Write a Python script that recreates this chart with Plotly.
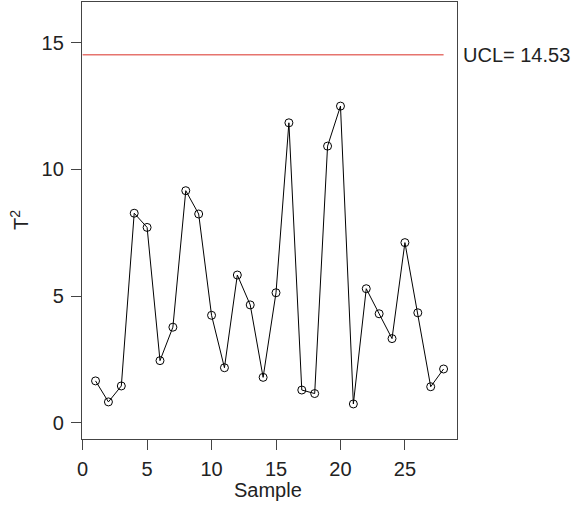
import plotly.graph_objects as go

# Hotelling T^2 statistics for each sample
samples = list(range(1, 29))
t2_values = [1.65, 0.82, 1.45, 8.27, 7.71, 2.45, 3.77, 9.16, 8.24, 4.24,
             2.17, 5.83, 4.65, 1.79, 5.13, 11.84, 1.29, 1.15, 10.92, 12.50,
             0.74, 5.29, 4.30, 3.32, 7.11, 4.34, 1.42, 2.12]
ucl = 14.53
x_ticks = [0, 5, 10, 15, 20, 25]
y_ticks = [0, 5, 10, 15]

FONT = "Liberation Sans, Arial, Helvetica, sans-serif"
FS = 20
TXT = "#222222"
W, H = 582, 505
L, R, T, B = 82, 125, 2, 66

fig = go.Figure()

# Upper control limit
fig.add_trace(go.Scatter(
    x=[0, samples[-1]], y=[ucl, ucl], mode="lines",
    line=dict(color="#E6746E", width=1.4), hoverinfo="skip", showlegend=False,
))

# T^2 series
fig.add_trace(go.Scatter(
    x=samples, y=t2_values, mode="lines+markers",
    line=dict(color="black", width=1),
    marker=dict(symbol="circle-open", size=8, color="black", line=dict(width=1)),
    showlegend=False,
))

axis_common = dict(
    showgrid=False, zeroline=False, showline=True, mirror=True,
    linecolor="#444444", linewidth=1.3,
    ticks="outside", ticklen=10, tickwidth=1, tickcolor="#444444",
    tickfont=dict(family=FONT, size=FS, color=TXT),
)

fig.update_layout(
    width=W, height=H,
    margin=dict(l=L, r=R, t=T, b=B),
    plot_bgcolor="white", paper_bgcolor="white",
    xaxis=dict(range=[-0.05, 29.04], tickvals=x_ticks, ticklabelstandoff=2, **axis_common),
    yaxis=dict(range=[-0.644, 16.61], tickvals=y_ticks, ticklabelstandoff=3, **axis_common),
    font=dict(family=FONT, size=FS, color=TXT),
)

pw = W - L - R
ph = H - T - B

fig.add_annotation(
    text="UCL= " + f"{ucl:.2f}", xref="paper", yref="y",
    x=(461 - L) / pw, y=ucl, xanchor="left", yanchor="middle",
    showarrow=False, font=dict(family=FONT, size=FS, color=TXT),
)
fig.add_annotation(
    text="Sample", xref="paper", yref="paper",
    x=(268 - L) / pw, y=-(490 - (H - B)) / ph, xanchor="center", yanchor="middle",
    showarrow=False, font=dict(family=FONT, size=FS, color=TXT),
)
fig.add_annotation(
    text="T<sup>2</sup>", xref="paper", yref="paper",
    x=(20 - L) / pw, y=1 - (220 - T) / ph, xanchor="center", yanchor="middle",
    textangle=-90, showarrow=False, font=dict(family=FONT, size=FS, color=TXT),
)

fig.write_html("out.html")
